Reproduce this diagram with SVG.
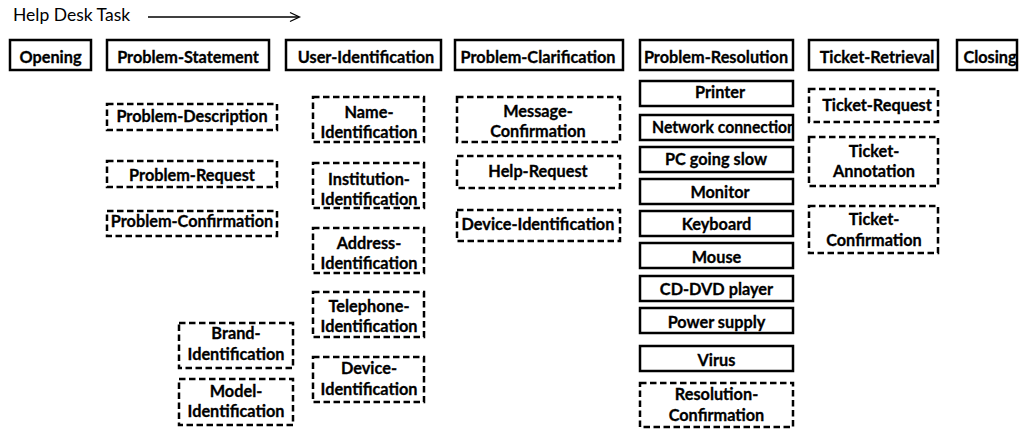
<svg xmlns="http://www.w3.org/2000/svg" width="1019" height="429" viewBox="0 0 1019 429">
<defs>
<style>
.b{fill:#fff;stroke:#000;stroke-width:2.5}
.d{fill:#fff;stroke:#000;stroke-width:2.5;stroke-dasharray:6.5 3.5}
text{font-family:Lato,"Liberation Sans",sans-serif;font-weight:bold;font-size:16.3px;text-anchor:middle;fill:#000;stroke:#000;stroke-width:0.3}
.t{font-weight:normal;font-size:17.5px;text-anchor:start;stroke:none}
</style>
<clipPath id="netclip"><rect x="640" y="115" width="152" height="25"/></clipPath>
</defs>
<rect width="1019" height="429" fill="#fff"/>
<g id="title">
<text class="t" x="13" y="21">Help Desk Task</text>
</g>
<g id="connectors" fill="none" stroke="#000" stroke-width="1.3">
<line x1="148" y1="17" x2="299" y2="17"/>
<polyline points="290,12.5 299.5,17 290,21.5"/>
</g>
<g id="opening"><rect class="b" x="10" y="40" width="81" height="30"/><text x="50.5" y="62.5">Opening</text></g>
<g id="problem-statement"><rect class="b" x="107" y="40" width="162" height="30"/><text x="188" y="62.5">Problem-Statement</text></g>
<g id="user-identification"><rect class="b" x="286" y="40" width="155" height="30"/><text x="366" y="62.5">User-Identification</text></g>
<g id="problem-clarification"><rect class="b" x="455" y="40" width="168" height="30"/><text x="538" y="62.5">Problem-Clarification</text></g>
<g id="problem-resolution"><rect class="b" x="640" y="40" width="153" height="30"/><text x="716" y="62.5">Problem-Resolution</text></g>
<g id="ticket-retrieval"><rect class="b" x="809" y="40" width="129" height="30"/><text x="877" y="62.5">Ticket-Retrieval</text></g>
<g id="closing"><rect class="b" x="957" y="40" width="60" height="30"/><text x="990" y="62.5">Closing</text></g>

<g id="problem-description"><rect class="d" x="107" y="104" width="170" height="26"/><text x="192" y="122">Problem-Description</text></g>
<g id="problem-request"><rect class="d" x="107" y="161" width="170" height="26"/><text x="192" y="181">Problem-Request</text></g>
<g id="problem-confirmation"><rect class="d" x="107" y="211" width="170" height="25"/><text x="192" y="227">Problem-Confirmation</text></g>
<g id="brand-identification"><rect class="d" x="179" y="323" width="114" height="45"/><text x="236" y="339">Brand-</text><text x="236" y="360">Identification</text></g>
<g id="model-identification"><rect class="d" x="179" y="379" width="114" height="46"/><text x="236" y="397">Model-</text><text x="236" y="417">Identification</text></g>

<g id="name-identification"><rect class="d" x="313" y="97" width="111" height="45"/><text x="369" y="118">Name-</text><text x="369" y="138">Identification</text></g>
<g id="institution-identification"><rect class="d" x="313" y="163" width="111" height="45"/><text x="369" y="185">Institution-</text><text x="369" y="205">Identification</text></g>
<g id="address-identification"><rect class="d" x="313" y="228" width="111" height="45"/><text x="369" y="249">Address-</text><text x="369" y="269">Identification</text></g>
<g id="telephone-identification"><rect class="d" x="313" y="292" width="111" height="45"/><text x="369" y="312">Telephone-</text><text x="369" y="332">Identification</text></g>
<g id="device-identification-user"><rect class="d" x="313" y="357" width="111" height="45"/><text x="369" y="374">Device-</text><text x="369" y="395">Identification</text></g>

<g id="message-confirmation"><rect class="d" x="457" y="97" width="163" height="45"/><text x="538" y="117">Message-</text><text x="538" y="137">Confirmation</text></g>
<g id="help-request"><rect class="d" x="457" y="156" width="163" height="32"/><text x="538" y="177">Help-Request</text></g>
<g id="device-identification"><rect class="d" x="457" y="210" width="163" height="31"/><text x="538" y="230">Device-Identification</text></g>

<g id="printer"><rect class="b" x="640" y="81" width="153" height="25"/><text x="720" y="98">Printer</text></g>
<g id="network-connection"><rect class="b" x="640" y="115" width="153" height="25"/><text x="652" y="133" style="text-anchor:start" textLength="144" lengthAdjust="spacingAndGlyphs" clip-path="url(#netclip)">Network connection</text></g>
<g id="pc-going-slow"><rect class="b" x="640" y="147" width="153" height="25"/><text x="716" y="165">PC going slow</text></g>
<g id="monitor"><rect class="b" x="640" y="179" width="153" height="25"/><text x="720" y="198">Monitor</text></g>
<g id="keyboard"><rect class="b" x="640" y="211" width="153" height="25"/><text x="716.5" y="230">Keyboard</text></g>
<g id="mouse"><rect class="b" x="640" y="243" width="153" height="25"/><text x="716.5" y="263">Mouse</text></g>
<g id="cd-dvd-player"><rect class="b" x="640" y="276" width="153" height="25"/><text x="716.5" y="295">CD-DVD player</text></g>
<g id="power-supply"><rect class="b" x="640" y="308" width="153" height="25"/><text x="716.5" y="328">Power supply</text></g>
<g id="virus"><rect class="b" x="640" y="346" width="153" height="25"/><text x="716.5" y="366">Virus</text></g>
<g id="resolution-confirmation"><rect class="d" x="640" y="383" width="153" height="44"/><text x="716.5" y="400">Resolution-</text><text x="716.5" y="421">Confirmation</text></g>

<g id="ticket-request"><rect class="d" x="809" y="89" width="129" height="33"/><text x="877" y="111">Ticket-Request</text></g>
<g id="ticket-annotation"><rect class="d" x="809" y="137" width="129" height="49"/><text x="874" y="157">Ticket-</text><text x="874" y="177">Annotation</text></g>
<g id="ticket-confirmation"><rect class="d" x="809" y="206" width="129" height="47"/><text x="874" y="225">Ticket-</text><text x="874" y="246">Confirmation</text></g>
</svg>
